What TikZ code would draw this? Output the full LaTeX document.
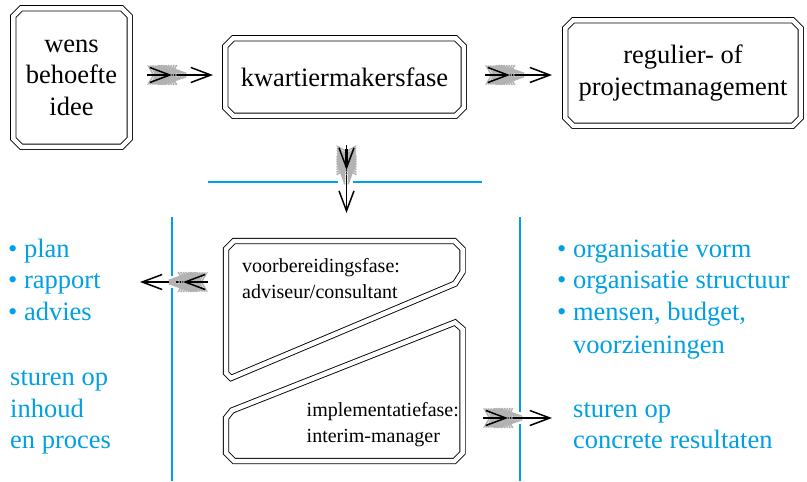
\documentclass[tikz,border=0pt]{standalone}
\usepackage{fontspec}
\setmainfont{Liberation Serif}
\usetikzlibrary{arrows.meta,decorations.markings}
\definecolor{cyanc}{RGB}{0,160,227}
\newcommand\bigtxt{\fontsize{26.5}{31.5}\selectfont}
\newcommand\smalltxt{\fontsize{20}{27}\selectfont}
\newcommand\chamfbox[2]{\draw[dbl] ([xshift=#2]#1.north west) -- ([xshift=-#2]#1.north east) -- ([yshift=-#2]#1.north east) -- ([yshift=#2]#1.south east) -- ([xshift=-#2]#1.south east) -- ([xshift=#2]#1.south west) -- ([yshift=#2]#1.south west) -- ([yshift=-#2]#1.north west) -- cycle;}
\tikzset{
  dbl/.style={draw=black, double=white, double distance=4.5pt, line width=0.9pt, line join=miter},
  boxn/.style={rectangle, inner sep=0pt, outer sep=0pt, align=center, font=\bigtxt},
  bluet/.style={anchor=base west, inner sep=0pt, text=cyanc, font=\bigtxt},
  smallt/.style={anchor=base west, inner sep=0pt, font=\smalltxt},
  sep/.style={draw=cyanc, line width=1.1pt},
  feather/.style={draw=black, line width=1.2pt,
    -{Straight Barb[length=20pt,width=15pt,line width=1.5pt]},
    postaction={decorate, decoration={markings, mark=at position 0 with {
      \foreach \s in {12,14.5,...,30} {
        \draw[gray!60, line width=.6pt] (\s,0) -- ++(-12,10);
        \draw[gray!60, line width=.6pt] (\s,0) -- ++(-12,-10);
      }
      \draw[black, line width=2.8pt] (4,0) -- (25,0);
    }}}},
}
\begin{document}
\begin{tikzpicture}[x=1pt,y=-1pt]
\useasboundingbox (0,0) rectangle (807,482);

% top boxes
\node[boxn, minimum width=116.5pt, minimum height=138.5pt] (wens) at (71.5,77.5) {wens\\behoefte\\idee};
\chamfbox{wens}{8pt}
\node[boxn, minimum width=238.5pt, minimum height=77.5pt] (kw) at (344.5,77) {kwartiermakersfase};
\chamfbox{kw}{8pt}
\node[boxn, minimum width=235.5pt, minimum height=105.5pt] (reg) at (683,73) {regulier- of\\projectmanagement};
\chamfbox{reg}{8pt}

% lower shapes
\draw[dbl] (226,249) -- (234,241) -- (454.5,241) -- (462.5,249) -- (462.5,272) -- (455,283.7) -- (231,378) -- (226,373) -- cycle;
\draw[dbl] (226,418) -- (232,410.5) -- (455,322.5) -- (462.5,329) -- (462.5,453) -- (454.5,461) -- (234,461) -- (226,453) -- cycle;
\node[smallt] (voor1) at (242,272) {voorbereidingsfase:};
\node[smallt] (voor2) at (242,298.5) {adviseur/consultant};
\node[smallt] (impl1) at (306.5,416) {implementatiefase:};
\node[smallt] (impl2) at (306.5,442.5) {interim-manager};

% cyan separators
\draw[sep] (208,182) -- (338,182);
\draw[sep] (353,182) -- (482,182);
\draw[sep] (172,217) -- (172,276);
\draw[sep] (172,288) -- (172,481);
\draw[sep] (520,217) -- (520,412);
\draw[sep] (520,424) -- (520,481);

% blue texts left
\node[bluet] (l1) at (8,257) {\textbullet\ plan};
\node[bluet] (l2) at (8,288.5) {\textbullet\ rapport};
\node[bluet] (l3) at (8,320) {\textbullet\ advies};
\node[bluet] (l4) at (10,385.5) {sturen op};
\node[bluet] (l5) at (10,417) {inhoud};
\node[bluet] (l6) at (10,448.5) {en proces};
% blue texts right
\node[bluet] (r1) at (557,257) {\textbullet\ organisatie vorm};
\node[bluet] (r2) at (557,288.5) {\textbullet\ organisatie structuur};
\node[bluet] (r3) at (557,320) {\textbullet\ mensen, budget,};
\node[bluet] (r4) at (573,353) {voorzieningen};
\node[bluet] (r5) at (573,417) {sturen op};
\node[bluet] (r6) at (573,448.5) {concrete resultaten};

% arrows
\coordinate (a1t) at (147,75);  \coordinate (a1h) at (213,75);
\coordinate (a2t) at (485,75);  \coordinate (a2h) at (552,75);
\coordinate (a3t) at (346.5,145); \coordinate (a3h) at (346.5,213);
\coordinate (a4t) at (208,282); \coordinate (a4h) at (140,282);
\coordinate (a5t) at (483,418); \coordinate (a5h) at (552,418);
\draw[feather] (a1t) -- (a1h);
\draw[feather] (a2t) -- (a2h);
\draw[feather] (a3t) -- (a3h);
\draw[feather] (a4t) -- (a4h);
\draw[feather] (a5t) -- (a5h);
\fill[gray!60] (168.5,279) rectangle (175.5,285);
\end{tikzpicture}
\end{document}
